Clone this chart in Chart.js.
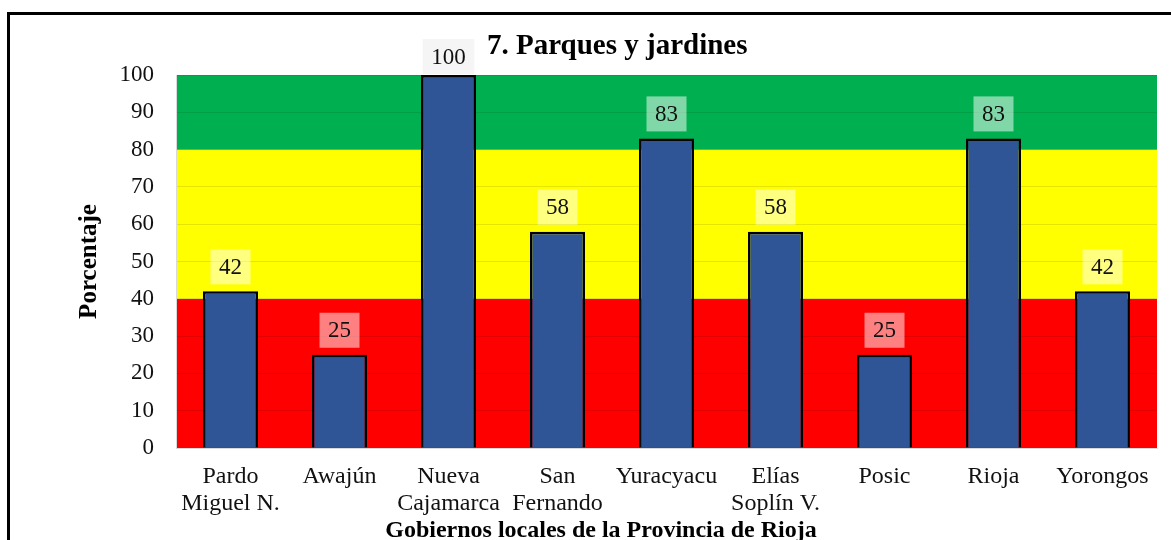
<!DOCTYPE html>
<html>
<head>
<meta charset="utf-8">
<script src="https://cdn.jsdelivr.net/npm/chart.js@4/dist/chart.umd.min.js"></script>
<style>
  html, body { margin: 0; padding: 0; background: #fff; }
  #wrap { width: 1171px; height: 540px; }
</style>
</head>
<body>
<div id="wrap"><canvas id="bar-chart" width="1171" height="540"></canvas></div>
<script>
// data
var labels = [["Pardo", "Miguel N."], "Awajún", ["Nueva", "Cajamarca"], ["San", "Fernando"],
              "Yuracyacu", ["Elías", "Soplín V."], "Posic", "Rioja", "Yorongos"];
var valores = [42, 25, 100, 58, 83, 58, 25, 83, 42];
var yTicks = [0, 10, 20, 30, 40, 50, 60, 70, 80, 90, 100];

// semaforo bands behind the bars
var bandFrom = [0, 40, 80];
var bandTo = [40, 80, 100];
var bandColors = ["#FF0000", "#FFFF00", "#00B050"];

var xTitulo = "Gobiernos locales de la Provincia de Rioja";

var serif = "'Liberation Serif', 'Times New Roman', serif";

var fondo = {
    id: "fondo",
    beforeDraw: function(chart) {
        var ctx = chart.ctx, a = chart.chartArea, y = chart.scales.y;
        ctx.save();
        ctx.fillStyle = "#fff";
        ctx.fillRect(0, 0, chart.width, chart.height);
        for (var i = 0; i < bandFrom.length; i++) {
            var top = y.getPixelForValue(bandTo[i]);
            var bot = y.getPixelForValue(bandFrom[i]);
            ctx.fillStyle = bandColors[i];
            ctx.fillRect(a.left, top, a.right - a.left, bot - top);
        }
        // outer frame
        ctx.strokeStyle = "#000";
        ctx.lineWidth = 3;
        ctx.strokeRect(8.5, 13.5, 1300, 700);
        ctx.restore();
    }
};

var etiquetas = {
    id: "etiquetas",
    afterDatasetsDraw: function(chart) {
        var ctx = chart.ctx;
        var meta = chart.getDatasetMeta(0);
        ctx.save();
        ctx.font = "23px " + serif;
        ctx.textAlign = "center";
        ctx.textBaseline = "middle";
        meta.data.forEach(function(bar, i) {
            var txt = String(valores[i]);
            var w = ctx.measureText(txt).width + 17;
            var h = 35;
            var bottom = bar.y - 7;
            var top = Math.max(bottom - h, 39);
            ctx.fillStyle = valores[i] >= 100 ? "rgba(235,235,235,0.5)" : "rgba(255,255,255,0.5)";
            ctx.fillRect(bar.x - w / 2, top, w, h);
            ctx.fillStyle = "#111";
            ctx.fillText(txt, bar.x, top + h / 2 + 1);
        });
        ctx.restore();
    },
    afterDraw: function(chart) {
        // x axis title sits left of the plot centre in the original
        var ctx = chart.ctx;
        ctx.save();
        ctx.font = "bold 24px " + serif;
        ctx.fillStyle = "#000";
        ctx.textAlign = "center";
        ctx.textBaseline = "middle";
        ctx.fillText(xTitulo, 601, 531);
        ctx.restore();
    }
};

new Chart(document.getElementById("bar-chart"), {
    type: "bar",
    data: {
        labels: labels,
        datasets: [{
            label: "Porcentaje",
            data: valores,
            backgroundColor: "#2F5597",
            borderColor: "#000",
            borderWidth: 2.5,
            barPercentage: 0.505,
            categoryPercentage: 1
        }]
    },
    options: {
        responsive: false,
        animation: false,
        layout: { padding: { left: 77.5, right: 14, top: 0, bottom: 0 } },
        plugins: {
            legend: { display: false },
            tooltip: { enabled: false },
            title: {
                display: true,
                text: "7. Parques y jardines",
                color: "#000",
                font: { family: serif, size: 29, weight: "bold", lineHeight: 1 },
                padding: { top: 32.5, bottom: 13.5 }
            }
        },
        scales: {
            x: {
                grid: { display: false, drawTicks: false },
                border: { color: "#D9D9D9" },
                ticks: { color: "#111", padding: 16, maxRotation: 0, autoSkip: false,
                         font: { family: serif, size: 24, lineHeight: 1.1 } },
                afterFit: function(scale) { scale.height = 92; }
            },
            y: {
                min: 0,
                max: 100,
                afterBuildTicks: function(scale) {
                    scale.ticks = yTicks.map(function(v) { return { value: v }; });
                },
                grid: { color: "rgba(0,0,0,0.1)", drawTicks: false },
                border: { color: "#D9D9D9" },
                ticks: { color: "#111", padding: 22, font: { family: serif, size: 23 } },
                title: {
                    display: true,
                    text: "Porcentaje",
                    color: "#000",
                    font: { family: serif, size: 25, weight: "bold", lineHeight: 1 },
                    padding: { top: 0, bottom: 0 }
                },
                afterFit: function(scale) { scale.width = 98.5; }
            }
        }
    },
    plugins: [fondo, etiquetas]
});
</script>
</body>
</html>
